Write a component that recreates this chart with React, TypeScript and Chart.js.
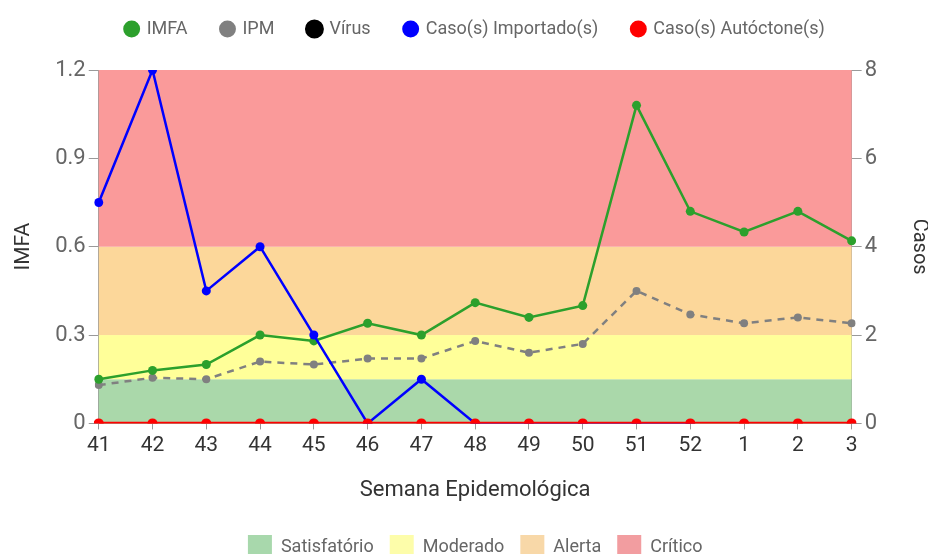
import React, { useEffect, useRef } from "react";
import { Chart, registerables } from "chart.js";

Chart.register(...registerables);

const weeks = ["41", "42", "43", "44", "45", "46", "47", "48", "49", "50", "51", "52", "1", "2", "3"];
const imfa = [0.15, 0.18, 0.2, 0.3, 0.28, 0.34, 0.3, 0.41, 0.36, 0.4, 1.08, 0.72, 0.65, 0.72, 0.62];
const ipm = [0.13, 0.155, 0.15, 0.21, 0.2, 0.22, 0.22, 0.28, 0.24, 0.27, 0.45, 0.37, 0.34, 0.36, 0.34];
const virus: (number | null)[] = [null, null, null, null, null, null, null, null, null, null, null, null, null, null, null];
const importados: (number | null)[] = [5, 8, 3, 4, 2, 0, 1, 0, 0, 0, 0, 0, null, null, null];
const autoctones = [0, 0, 0, 0, 0, 0, 0, 0, 0, 0, 0, 0, 0, 0, 0];

const bandNames = ["Satisfatório", "Moderado", "Alerta", "Crítico"];
const bandLimits = [0, 0.15, 0.3, 0.6, 1.2];
const bandColors = ["#aad8aa", "#ffff99", "#fcd79a", "#fa9a9a"];
const bandLegendColors = ["#a8d8ac", "#fdfdaa", "#f8d8a8", "#f29da0"];

const FONT = "Roboto, 'Noto Sans', sans-serif";

const bandsPlugin = {
  id: "bands",
  beforeInit(chart: any) {
    const legend = chart.legend;
    if (legend) {
      const origFit = legend.fit.bind(legend);
      legend.fit = function () {
        origFit();
        this.height += 22;
      };
      const origDraw = legend.draw.bind(legend);
      legend.draw = function () {
        const ca = chart.chartArea;
        const shift = (ca.left + ca.right) / 2 - (legend.left + legend.right) / 2;
        chart.ctx.save();
        chart.ctx.translate(shift, 0);
        origDraw();
        chart.ctx.restore();
      };
    }
  },
  beforeDatasetsDraw(chart: any) {
    const { ctx, chartArea, scales } = chart;
    const y = scales.y;
    ctx.save();
    for (let i = 0; i < bandNames.length; i++) {
      const top = y.getPixelForValue(bandLimits[i + 1]);
      const bottom = y.getPixelForValue(bandLimits[i]);
      ctx.fillStyle = bandColors[i];
      ctx.fillRect(chartArea.left, top, chartArea.right - chartArea.left, bottom - top);
    }
    ctx.restore();
  },
  afterDraw(chart: any) {
    const { ctx, chartArea } = chart;
    ctx.save();
    ctx.font = `18px ${FONT}`;
    ctx.textBaseline = "middle";
    const boxW = 24;
    const boxH = 20;
    const gapBoxText = 9;
    const gapItems = 16;
    const widths = bandNames.map((n) => boxW + gapBoxText + ctx.measureText(n).width);
    const total = widths.reduce((a, b) => a + b, 0) + gapItems * (bandNames.length - 1);
    let x = (chartArea.left + chartArea.right - total) / 2;
    const yc = 546;
    for (let i = 0; i < bandNames.length; i++) {
      ctx.fillStyle = bandLegendColors[i];
      ctx.fillRect(x, 535, boxW, boxH);
      ctx.fillStyle = "#666";
      ctx.fillText(bandNames[i], x + boxW + gapBoxText, yc + 1);
      x += widths[i] + gapItems;
    }
    ctx.restore();
  },
};

export default function App() {
  const ref = useRef<HTMLCanvasElement | null>(null);
  useEffect(() => {
    if (!ref.current) return;
    const chart = new Chart(ref.current, {
      type: "line",
      data: {
        labels: weeks,
        datasets: [
          {
            label: "IMFA",
            data: imfa,
            yAxisID: "y",
            borderColor: "#2ca02c",
            backgroundColor: "#2ca02c",
            borderWidth: 2.5,
            pointRadius: 4.5,
            pointBorderWidth: 0,
            tension: 0,
            order: 2,
          },
          {
            label: "IPM",
            data: ipm,
            yAxisID: "y",
            borderColor: "#808080",
            backgroundColor: "#808080",
            borderWidth: 2.5,
            borderDash: [7, 6],
            pointRadius: 4,
            pointBorderWidth: 0,
            tension: 0,
            order: 3,
          },
          {
            label: "Vírus",
            data: virus,
            yAxisID: "y2",
            borderColor: "#000",
            backgroundColor: "#000",
            borderWidth: 2,
            pointRadius: 4,
            order: 4,
          },
          {
            label: "Caso(s) Importado(s)",
            data: importados,
            yAxisID: "y2",
            borderColor: "#0000ff",
            backgroundColor: "#0000ff",
            borderWidth: 2.5,
            pointRadius: 4.5,
            pointBorderWidth: 0,
            tension: 0,
            order: 1,
          },
          {
            label: "Caso(s) Autóctone(s)",
            data: autoctones,
            yAxisID: "y2",
            borderColor: "#ff0000",
            backgroundColor: "#ff0000",
            borderWidth: 3.5,
            pointRadius: 5,
            pointBorderWidth: 0,
            tension: 0,
            order: 0,
          },
        ],
      },
      options: {
        animation: false,
        responsive: false,
        maintainAspectRatio: false,
        layout: { padding: { top: -14, left: 8, right: -1, bottom: 50 } },
        plugins: {
          legend: {
            position: "top",
            labels: {
              usePointStyle: true,
              pointStyle: "circle",
              boxWidth: 12,
              boxHeight: 12,
              padding: 34,
              color: "#666",
              font: { family: FONT, size: 18 },
              sort: (a: any, b: any) => a.datasetIndex - b.datasetIndex,
            },
          },
          tooltip: { enabled: false },
        },
        scales: {
          x: {
            offset: false,
            grid: { drawOnChartArea: false, drawTicks: true, tickLength: 6, color: "#999" },
            border: { display: true, color: "#999" },
            ticks: { color: "#333", font: { family: FONT, size: 21 }, padding: 4, maxRotation: 0 },
            title: {
              display: true,
              text: "Semana Epidemológica",
              color: "#333",
              font: { family: FONT, size: 22 },
              padding: { top: 15, bottom: 0 },
            },
          },
          y: {
            position: "left",
            min: 0,
            max: 1.2,
            ticks: {
              stepSize: 0.3,
              color: "#666",
              font: { family: FONT, size: 22 },
              padding: 3,
              callback: (v: any) => (v === 0 ? "0" : Number(v).toFixed(1)),
            },
            grid: { drawOnChartArea: false, drawTicks: true, tickLength: 10, color: "#999" },
            border: { display: true, color: "#999", width: 1 },
            title: {
              display: true,
              text: "IMFA",
              color: "#333",
              font: { family: FONT, size: 21 },
              padding: { top: 3, bottom: 16 },
            },
          },
          y2: {
            position: "right",
            min: 0,
            max: 8,
            ticks: {
              stepSize: 2,
              color: "#666",
              font: { family: FONT, size: 22 },
              padding: 3,
            },
            grid: { drawOnChartArea: false, drawTicks: true, tickLength: 10, color: "#999" },
            border: { display: true, color: "#999", width: 1 },
            title: {
              display: true,
              text: "Casos",
              color: "#333",
              font: { family: FONT, size: 20 },
              padding: { top: -2, bottom: 27 },
            },
          },
        },
      },
      plugins: [bandsPlugin],
    });
    return () => chart.destroy();
  }, []);
  return (
    <div style={{ position: "absolute", left: 0, top: 0, width: 928, height: 554 }}>
      <canvas ref={ref} width={928} height={554} style={{ width: 928, height: 554 }} />
    </div>
  );
}
